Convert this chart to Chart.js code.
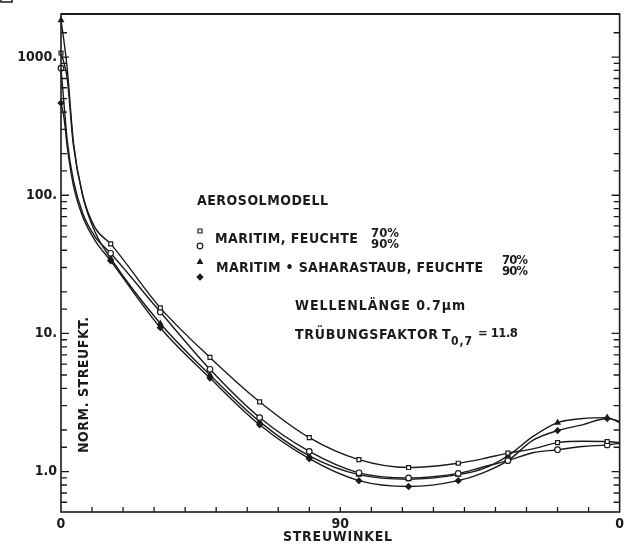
<!DOCTYPE html>
<html>
<head>
<meta charset="utf-8">
<script src="https://cdn.jsdelivr.net/npm/chart.js@4/dist/chart.umd.min.js"></script>
<style>
  html, body { margin: 0; padding: 0; background: #fff; }
  canvas { display: block; }
</style>
</head>
<body>
<canvas id="c" width="628" height="545"></canvas>
<script>
// Scattering angle (degrees) at which the phase functions are sampled
const angles = [0, 1, 2, 4, 7, 11, 16, 32, 48, 64, 80, 96, 112, 128, 136, 144, 152, 160, 168, 176, 180];
// Angles carrying a plotted symbol
const markerAngles = [0, 16, 32, 48, 64, 80, 96, 112, 128, 144, 160, 176];

// Normalised scattering function per aerosol model
const maritim70 = [1070, 900, 700, 230, 100, 58, 44.5, 15.3, 6.7, 3.2, 1.76, 1.22, 1.07, 1.15, 1.24, 1.36, 1.46, 1.62, 1.66, 1.65, 1.62];
const maritim90 = [830, 450, 250, 128, 74, 50, 38, 14.3, 5.5, 2.46, 1.40, 0.98, 0.90, 0.97, 1.08, 1.20, 1.37, 1.44, 1.52, 1.56, 1.60];
const sahara70  = [1850, 1280, 830, 242, 99, 54, 35, 11.8, 5.0, 2.3, 1.30, 0.95, 0.88, 0.95, 1.05, 1.30, 1.79, 2.26, 2.42, 2.46, 2.26];
const sahara90  = [465, 360, 225, 118, 70, 47, 33.5, 11.0, 4.75, 2.18, 1.24, 0.86, 0.78, 0.86, 0.98, 1.20, 1.68, 1.98, 2.18, 2.42, 2.32];

// Axis ticks and labels
const yTickValues = [];
[0.1, 1, 10, 100, 1000].forEach(d => [1, 1.5, 2, 3, 4, 5, 6, 7, 8, 9].forEach(m => yTickValues.push(+(d * m).toPrecision(3))));
const yMajorValues = [1, 10, 100, 1000];
const yMajorLabels = ['1.0', '10.', '100.', '1000.'];
const xLabelValues = [0, 90, 180];
const xLabelTexts = ['0', '90', '0'];

const INK = '#1b1b1b';
const FONT = '"DejaVu Sans Condensed", "DejaVu Sans", sans-serif';

function series(vals) {
  return angles.map((a, i) => ({ x: a, y: vals[i] }));
}

function dataset(vals, style, filled) {
  return {
    data: series(vals),
    borderColor: INK,
    borderWidth: 1.4,
    cubicInterpolationMode: 'monotone',
    pointStyle: style,
    pointRadius: ctx => (ctx.raw && markerAngles.includes(ctx.raw.x)) ? 2.8 : 0,
    pointHoverRadius: 0,
    pointBorderWidth: 1.2,
    pointBorderColor: INK,
    pointBackgroundColor: filled ? INK : '#fff',
    clip: false
  };
}

function fitText(ctx, str, left, cy, width, size, weight) {
  ctx.font = `${weight || 'bold'} ${size}px ${FONT}`;
  ctx.letterSpacing = '0px';
  const w = ctx.measureText(str).width;
  const n = [...str].length;
  const sp = n > 1 ? (width - w) / (n - 1) : 0;
  ctx.letterSpacing = sp.toFixed(2) + 'px';
  ctx.textAlign = 'left';
  ctx.textBaseline = 'middle';
  ctx.fillText(str, left, cy);
  ctx.letterSpacing = '0px';
}

const decor = {
  id: 'decor',
  afterDraw(chart) {
    const { ctx, chartArea: a, scales: { x, y } } = chart;
    ctx.save();
    ctx.strokeStyle = INK;
    ctx.fillStyle = INK;

    // frame
    ctx.lineWidth = 1.6;
    ctx.strokeRect(a.left, a.top, a.right - a.left, a.bottom - a.top);
    ctx.lineWidth = 2.2;
    ctx.beginPath(); ctx.moveTo(a.left, a.top); ctx.lineTo(a.right, a.top); ctx.stroke();

    // inward ticks on left and right axes
    ctx.lineWidth = 1.3;
    yTickValues.forEach(v => {
      const py = y.getPixelForValue(v);
      if (py < a.top + 2 || py > a.bottom - 2) return;
      const len = yMajorValues.includes(v) ? 8 : 6;
      ctx.beginPath();
      ctx.moveTo(a.left, py); ctx.lineTo(a.left + len, py);
      ctx.moveTo(a.right, py); ctx.lineTo(a.right - len, py);
      ctx.stroke();
    });
    // inward ticks on bottom axis, every 10 degrees
    for (let d = 10; d < 180; d += 10) {
      const px = x.getPixelForValue(d);
      ctx.beginPath(); ctx.moveTo(px, a.bottom); ctx.lineTo(px, a.bottom - 5); ctx.stroke();
    }

    // small box fragment in the upper left corner
    ctx.lineWidth = 1.5;
    ctx.strokeRect(1, -6, 11, 8);

    // axis titles
    fitText(ctx, 'STREUWINKEL', 283, 537, 109, 14);
    ctx.save();
    ctx.translate(84, 385);
    ctx.rotate(-Math.PI / 2);
    fitText(ctx, 'NORM. STREUFKT.', -68, 0, 136, 14);
    ctx.restore();

    // model legend
    fitText(ctx, 'AEROSOLMODELL', 197, 201, 131, 14);
    const sym = [['rect', false, 231], ['circle', false, 246], ['triangle', true, 262], ['rectRot', true, 277]];
    sym.forEach(([style, filled, py]) => {
      ctx.fillStyle = filled ? INK : '#fff';
      ctx.strokeStyle = INK;
      ctx.lineWidth = 1.2;
      Chart.helpers.drawPoint(ctx, { pointStyle: style, radius: 2.8, borderWidth: 1.2, rotation: 0 }, 200, py);
    });
    ctx.fillStyle = INK;
    fitText(ctx, 'MARITIM, FEUCHTE', 215, 239, 143, 14);
    fitText(ctx, '70%', 371, 234, 28, 13);
    fitText(ctx, '90%', 371, 245, 28, 13);
    fitText(ctx, 'MARITIM \u2022 SAHARASTAUB, FEUCHTE', 216, 268, 267, 14);
    fitText(ctx, '70%', 502, 261, 26, 13);
    fitText(ctx, '90%', 502, 272, 26, 13);

    fitText(ctx, 'WELLENL\u00C4NGE 0.7\u00B5m', 295, 306, 170, 14);
    fitText(ctx, 'TR\u00DCBUNGSFAKTOR', 295, 335, 143, 14);
    fitText(ctx, 'T', 442, 335, 9, 14);
    fitText(ctx, '0,7', 451, 342, 21, 12);
    fitText(ctx, '= 11.8', 478, 334, 40, 13);

    ctx.restore();
  }
};

new Chart(document.getElementById('c'), {
  type: 'line',
  data: {
    datasets: [
      dataset(maritim70, 'rect', false),
      dataset(maritim90, 'circle', false),
      dataset(sahara70, 'triangle', true),
      dataset(sahara90, 'rectRot', true)
    ]
  },
  options: {
    responsive: false,
    animation: false,
    devicePixelRatio: 1,
    layout: { padding: { top: 14, right: 8, left: 0, bottom: 0 } },
    plugins: { legend: { display: false }, tooltip: { enabled: false } },
    scales: {
      x: {
        type: 'linear',
        min: 0, max: 180,
        grid: { display: false, drawTicks: false },
        border: { display: false },
        afterFit: s => { s.height = 33; },
        ticks: {
          stepSize: 10,
          autoSkip: false,
          maxRotation: 0,
          padding: 4,
          color: INK,
          font: { family: FONT, size: 14, weight: 'bold' },
          callback: v => { const i = xLabelValues.indexOf(v); return i >= 0 ? xLabelTexts[i] : ''; }
        }
      },
      y: {
        type: 'logarithmic',
        min: 0.51, max: 2050,
        grid: { display: false, drawTicks: false },
        border: { display: false },
        afterFit: s => { s.width = 61; },
        afterBuildTicks: s => { s.ticks = yTickValues.filter(v => v >= 0.51 && v <= 2050).map(v => ({ value: v })); },
        ticks: {
          autoSkip: false,
          padding: 4,
          color: INK,
          font: { family: FONT, size: 14, weight: 'bold' },
          callback: v => { const i = yMajorValues.indexOf(v); return i >= 0 ? yMajorLabels[i] : ''; }
        }
      }
    }
  },
  plugins: [decor]
});
</script>
</body>
</html>
